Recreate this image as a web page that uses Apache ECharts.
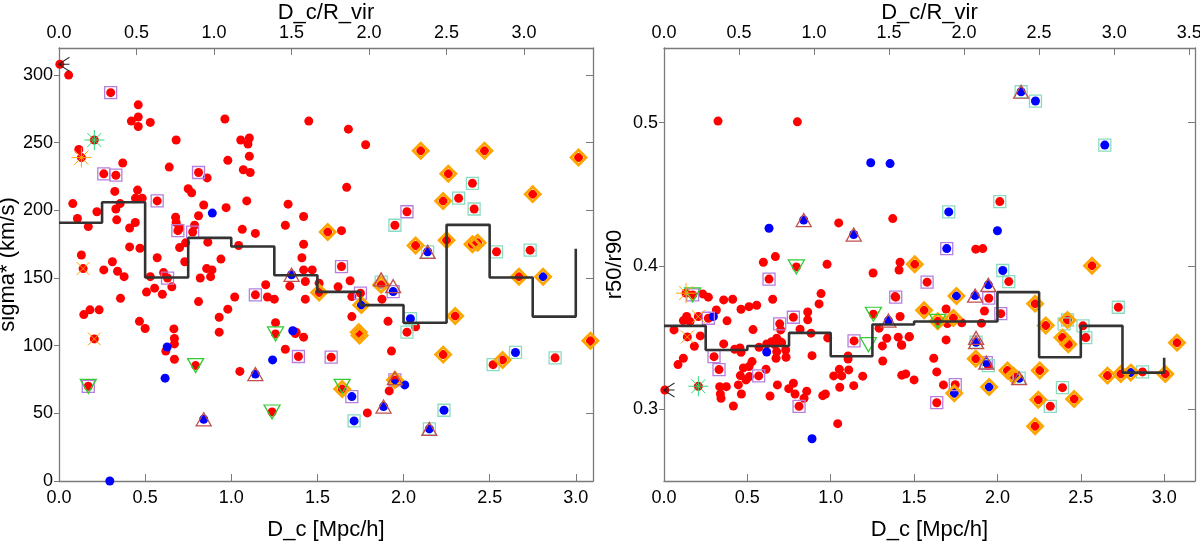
<!DOCTYPE html>
<html><head><meta charset="utf-8">
<script src="https://cdn.jsdelivr.net/npm/echarts@6/dist/echarts.min.js"></script>
<style>html,body{margin:0;padding:0;background:#fff}#c{width:1200px;height:544px}</style>
</head><body><div id="c"></div>
<script>
// ---------- tick labels ----------
const leftYTicks = [0, 50, 100, 150, 200, 250, 300];
const rightYTicks = [0.3, 0.4, 0.5];
const leftBottomTicks = [0, 0.5, 1.0, 1.5, 2.0, 2.5, 3.0];
const rightBottomTicks = [0, 0.5, 1.0, 1.5, 2.0, 2.5, 3.0];
const leftTopTicks = [0, 0.5, 1.0, 1.5, 2.0, 2.5, 3.0];
const rightTopTicks = [0, 0.5, 1.0, 1.5, 2.0, 2.5, 3.0, 3.5];

// ---------- left panel: sigma* vs D_c ----------
const leftRed = [[0.005,308],[0.056,300],[0.30,287],[0.46,278],[0.46,269],[0.42,266],[0.46,262],[0.53,265],[0.205,252],[0.68,252],[0.115,245],[0.13,239],[0.37,235],[0.64,232],[0.26,227],[0.33,226],[0.324,214],[0.456,215],[0.444,209],[0.483,209],[0.08,205],[0.22,199],[0.33,201],[0.355,205],[0.57,207],[0.107,194],[0.335,193],[0.17,188],[0.41,187],[0.443,191],[0.41,173],[0.47,172],[0.13,167],[0.14,157],[0.31,162],[0.26,156],[0.34,155],[0.378,151],[0.57,165],[0.53,151],[0.63,150],[0.607,154],[0.677,195],[0.69,185],[0.70,187],[0.68,191],[0.776,184],[0.787,189],[0.70,172.5],[0.73,162],[0.735,176],[0.75,216],[0.77,213],[0.81,228],[0.86,224],[0.84,204],[0.81,196],[0.864,176.5],[0.857,157],[0.888,156],[0.88,151],[0.82,150],[0.94,164],[0.97,202],[0.963,267.5],[0.98,237],[1.055,252],[1.105,253.5],[1.097,249],[1.105,240],[1.07,230],[1.11,228],[1.09,207],[1.064,186],[1.14,183],[1.043,174],[1.33,204.6],[1.314,189],[1.2,145],
[1.45,266],[1.68,260],[1.78,248.5],[1.67,217],[2.10,244],[2.47,244],[3.016,239],[2.26,227],[2.40,220],[2.32,209],[2.23,207],[2.41,201],[2.75,212],[2.02,199],[1.95,189],[1.42,195.5],[1.56,184],[1.64,185],[1.42,175],[1.41,165],[1.42,156],[1.47,156],[1.64,158.5],[1.69,148],[1.62,143.5],[1.34,144],[2.07,174],[2.25,178],[2.40,175],[2.43,176],[2.54,169.4],[2.735,170.6],[2.67,151],[1.87,145],
[0.144,123],[0.18,126.5],[0.233,126.5],[0.357,135],[0.508,139.6],[0.555,142.5],[0.60,138],[0.655,143.5],[0.467,118],[0.50,112.7],[0.667,112.4],[0.67,105.3],[0.67,101.3],[0.67,90],[0.62,96],[0.81,132.6],[0.93,121],[0.98,127],[0.93,110],[1.02,136],[1.14,137.6],[1.21,136],[1.25,134.4],[1.257,117],[1.257,108.7],[1.05,81],[1.314,97.4],[1.372,109],[1.39,92],[0.793,85.3],[0.17,70],[1.237,51],[0.205,105],
[1.43,147.4],[1.43,134.4],[1.51,139.3],[1.51,146.2],[1.70,136.3],[1.75,138.8],[1.70,121.5],[1.875,134.4],[1.91,118],[2.02,110],[2.07,114],[2.30,122],[1.74,110],[1.745,107.5],[1.377,110],[1.42,106.3],[1.58,91.5],[1.93,96],[2.23,93.4],[2.52,86],[2.575,89.5],[2.88,91],[3.085,103.6],[1.644,68],[1.917,66.6],[1.95,74.7],[1.79,50.3]];
const leftBlue = [[0.89,198],[1.35,152.4],[2.14,169.4],[2.81,151],[1.94,140],[0.628,99],[0.616,76],[1.24,89.5],[1.357,111],[1.14,79],[0.84,45.6],[0.295,0],[1.755,130],[2.04,120],[2.65,95],[1.70,62.4],[2.007,71],[1.884,55],[1.713,44.4],[2.235,52.3],[2.15,38.5],[1.95,72]];
const leftPurpleSq = [[0.30,287],[0.26,227],[0.33,226],[0.57,207],[0.69,185],[0.776,184],[0.81,228],[0.63,150],[1.14,137.6],[1.39,92],[0.17,70],[2.02,199],[1.64,158.5],[1.75,138.8],[1.94,140],[1.58,91.5],[1.70,62.4],[1.95,74.7]];
const leftTealSq = [[2.40,220],[2.32,209],[2.41,201],[1.95,189],[2.14,169.4],[2.54,169.4],[2.735,170.6],[1.87,147],[2.04,120],[2.02,110],[2.52,86],[2.65,95],[2.88,91],[1.713,44.4],[2.235,52.3],[2.15,38.5]];
const leftDiamond = [[2.10,244],[2.47,244],[3.016,239],[2.26,227],[2.23,207],[2.75,212],[1.56,184],[2.07,174],[2.25,178],[2.40,175],[2.43,176],[2.67,151],[2.81,151],[1.87,145],[1.51,139.3],[1.755,130],[2.30,122],[1.74,110],[1.745,107.5],[2.23,93.4],[2.575,89.5],[3.085,103.6],[1.644,68],[1.95,74.7]];
const leftDownTri = [[0.17,70],[0.793,85.3],[1.257,108.7],[1.237,51],[1.644,70]];
const leftUpTri = [[1.35,152.4],[2.14,169.4],[0.84,45.6],[1.14,79],[1.95,76],[1.884,55],[2.15,38.5],[1.87,149],[1.94,144]];
const leftStar = [[0.13,239]];
const leftCross = [[0.14,157],[0.205,105]];
const leftGreenStar = [[0.205,252]];
const leftBlackTri = [[0,308]];
const leftStepEdges = [0,0.25,0.5,0.75,1.0,1.25,1.5,1.75,2.0,2.25,2.5,2.75,3.0];
const leftStepValues = [190.8,206,150.4,179.7,173.3,152.1,139.8,130,117,189.3,150.4,121.5];
const leftStepTail = 171.6;

// ---------- right panel: r50/r90 vs D_c ----------
const rightRed = [[0.324,0.501],[0.80,0.5005],[1.048,0.430],[1.372,0.433],[0.596,0.4026],[0.668,0.4065],[0.794,0.3993],[0.978,0.4012],[1.254,0.3951],[1.416,0.4026],[1.41,0.3972],[0.63,0.3908],
[2.014,0.4449],[1.87,0.4117],[1.912,0.4121],[1.504,0.4012],[2.567,0.4002],[2.068,0.3891],[1.578,0.3887],[1.386,0.3786],[1.948,0.3775],
[1.922,0.3686],[2.02,0.3667],[1.692,0.370],[1.56,0.3691],[1.642,0.3614],[1.736,0.3637],[1.70,0.3598],[1.786,0.3603],[1.904,0.3601],[1.47,0.3505],[1.426,0.3447],[1.692,0.3484],[1.87,0.3353],[1.945,0.3305],[1.618,0.3356],[1.636,0.3261],[1.50,0.3205],[1.45,0.3247],[1.426,0.3238],[1.676,0.317],[1.747,0.3172],[1.636,0.3046],[2.06,0.327],[2.096,0.3235],[2.254,0.327],[2.226,0.3737],[2.29,0.3584],[2.42,0.3623],[2.39,0.35],[2.425,0.3454],[2.513,0.3582],[2.53,0.35],[2.725,0.3712],[3.077,0.3465],[2.39,0.3151],[2.46,0.3072],[2.245,0.3067],[2.317,0.3021],[2.226,0.2882],[2.66,0.3235],[2.74,0.3247],[2.87,0.3261],[3.007,0.3247],
[1.39,0.3782],[0.172,0.3798],[0.132,0.381],[0.232,0.3805],[0.266,0.3782],[0.358,0.3763],[0.412,0.3768],[0.462,0.3698],[0.51,0.3716],[0.556,0.3726],[0.652,0.3768],[0.942,0.3807],[0.93,0.3735],[0.862,0.3679],[0.862,0.3624],[0.776,0.3642],[0.694,0.3596],[0.70,0.3554],[0.206,0.3647],[0.266,0.3635],[0.136,0.3647],[0.116,0.3619],[0.156,0.3612],[0.314,0.3693],[0.378,0.3617],[0.14,0.3505],[0.06,0.3554],[0.218,0.3512],[0.182,0.344],[0.116,0.3356],[0.084,0.3312],[0.30,0.3367],[0.33,0.3277],[0.206,0.3161],[0.358,0.3456],[0.424,0.3419],[0.456,0.3428],[0.462,0.3398],[0.534,0.3556],[0.57,0.3433],[0.616,0.3456],[0.646,0.3472],[0.676,0.3496],[0.696,0.3472],[0.666,0.3449],[0.676,0.3402],[0.73,0.3414],[0.706,0.3465],[0.672,0.3356],[0.732,0.3363],[0.816,0.3559],[0.882,0.3531],[0.888,0.3374],[0.982,0.3498],[1.14,0.3477],[1.256,0.3663],[1.29,0.3566],[1.336,0.3496],[1.31,0.3442],[1.416,0.3647],[1.405,0.3503],[1.472,0.3507],[1.424,0.3451],[1.104,0.3372],[1.104,0.3351],[1.312,0.3337],[0.458,0.3235],[0.512,0.3228],[0.492,0.3205],[0.476,0.3289],[0.51,0.3298],[0.528,0.3333],[0.612,0.3279],[0.568,0.3233],[0.446,0.317],[0.334,0.3158],[0.374,0.3158],[0.338,0.3107],[0.342,0.3077],[0.464,0.3107],[0.68,0.317],[0.748,0.3144],[0.776,0.3182],[0.786,0.3107],[0.856,0.3126],[0.636,0.3093],[0.84,0.3077],[0.81,0.3021],[0.416,0.3023],[0.952,0.3095],[0.968,0.3107],[1.018,0.3233],[1.066,0.3233],[1.052,0.3279],[1.108,0.3275],[1.054,0.3154],[1.138,0.3165],[1.192,0.3231],[1.042,0.29],[0.005,0.3135]];
const rightBlue = [[1.24,0.472],[1.356,0.4714],[0.838,0.432],[0.63,0.4263],[1.138,0.4219],[2.142,0.5215],[2.228,0.515],[2.644,0.4843],[1.708,0.4377],[2.0,0.4245],[1.696,0.4121],[2.032,0.3968],[1.945,0.3868],[1.754,0.3791],[1.866,0.3793],[1.872,0.3468],[1.933,0.3326],[1.741,0.3112],[1.95,0.3156],[2.13,0.3217],[2.80,0.3256],[0.296,0.3647],[0.616,0.34],[1.346,0.3619],[0.888,0.2795]];
const rightPurpleSq = [[0.63,0.3908],[0.172,0.3798],[1.696,0.4121],[1.578,0.3887],[1.948,0.3775],[2.02,0.3667],[1.933,0.3326],[1.747,0.3172],[1.636,0.3046],[1.39,0.3782],[0.776,0.3642],[0.694,0.3596],[0.266,0.3635],[0.30,0.3367],[0.33,0.3277],[0.568,0.3233],[0.81,0.3021],[1.14,0.3477]];
const rightTealSq = [[2.142,0.5215],[2.228,0.515],[2.644,0.4843],[2.014,0.4449],[1.708,0.4377],[2.032,0.3968],[2.068,0.3891],[1.872,0.3468],[1.945,0.3305],[2.13,0.3217],[2.42,0.3623],[2.40,0.3596],[2.513,0.3582],[2.53,0.35],[2.725,0.3712],[2.39,0.3151],[2.317,0.3021],[2.87,0.3261]];
const rightDiamond = [[1.504,0.4012],[2.567,0.4002],[1.754,0.3791],[1.56,0.3691],[1.642,0.3614],[1.736,0.3637],[1.87,0.3353],[1.741,0.3112],[1.95,0.3156],[2.06,0.327],[2.096,0.3235],[2.254,0.327],[2.226,0.3737],[2.29,0.3584],[2.42,0.3623],[2.39,0.35],[2.425,0.3454],[3.077,0.3465],[2.46,0.3072],[2.245,0.3067],[2.226,0.2882],[2.66,0.3235],[2.74,0.3247],[2.80,0.3256],[3.007,0.3247]];
const rightDownTri = [[0.172,0.3798],[0.794,0.3993],[1.226,0.3451],[1.256,0.3663],[1.642,0.3614]];
const rightUpTri = [[0.838,0.432],[1.138,0.4219],[2.142,0.5215],[1.945,0.3868],[1.866,0.3793],[1.872,0.3468],[1.872,0.3498],[1.933,0.3326],[2.13,0.3217],[1.346,0.3619]];
const rightStar = [[0.132,0.381]];
const rightCross = [[0.206,0.3647],[0.14,0.3505]];
const rightGreenStar = [[0.206,0.3161]];
const rightBlackTri = [[0,0.3135]];
const rightStepEdges = [0,0.25,0.5,0.75,1.0,1.25,1.5,1.75,2.0,2.25,2.5,2.75,3.0];
const rightStepValues = [0.3582,0.3414,0.3442,0.3533,0.337,0.3592,0.3612,0.3612,0.3817,0.3363,0.3582,0.3256];
const rightStepTail = 0.336;

// ---------- build ----------
const FF = '"Liberation Sans", Arial, Helvetica, sans-serif';
const AX = '#7a7a7a';
function stepPoints(edges, vals, tail) {
  const pts = [];
  for (let i = 0; i < vals.length; i++) { pts.push([edges[i], vals[i]]); pts.push([edges[i + 1], vals[i]]); }
  pts.push([edges[edges.length - 1], tail]);
  return pts;
}
function xAx(gi, pos, max, ticks, name, gap, margin) {
  return {
    type: 'value', gridIndex: gi, position: pos, min: 0, max: max,
    name: name, nameLocation: 'middle', nameGap: gap, nameMoveOverlap: false,
    nameTextStyle: { fontSize: 22, color: '#000', fontFamily: FF },
    axisLine: { show: true, onZero: false, lineStyle: { color: AX, width: 1.3 } },
    axisTick: { show: true, inside: true, length: 7, customValues: ticks, lineStyle: { color: AX } },
    axisLabel: { show: true, customValues: ticks, margin: margin, fontSize: 18, color: '#000', fontFamily: FF,
      formatter: v => Number(v).toFixed(1) },
    splitLine: { show: false }
  };
}
function yAx(gi, pos, min, max, ticks, name, gap, fmt, showLabel) {
  return {
    type: 'value', gridIndex: gi, position: pos, min: min, max: max,
    name: name, nameLocation: 'middle', nameGap: gap, nameRotate: 90,
    nameTextStyle: { fontSize: 22, color: '#000', fontFamily: FF },
    axisLine: { show: true, onZero: false, lineStyle: { color: AX, width: 1.3 } },
    axisTick: { show: true, inside: !showLabel, length: showLabel ? 5 : 7, customValues: ticks, lineStyle: { color: AX } },
    axisLabel: { show: showLabel, customValues: ticks, margin: 6, fontSize: 18, color: '#000', fontFamily: FF, formatter: fmt },
    splitLine: { show: false }
  };
}
const STAR = 'path://M10,0L10,20M0,10L20,10M3,3L17,17M17,3L3,17';
const CROSS = 'path://M0,0L10,10M10,0L0,10';
const TRI3 = 'path://M0,10L12,0M0,10L12,10M0,10L12,20';
function layer(xi, yi, data, sym, size, style, extra) {
  return Object.assign({
    type: 'scatter', xAxisIndex: xi, yAxisIndex: yi, data: data, symbol: sym, symbolSize: size,
    itemStyle: Object.assign({ opacity: 1 }, style), silent: true, animation: false
  }, extra || {});
}
function panelSeries(xi, yi, d) {
  const open = 'rgba(0,0,0,0)';
  return [
    layer(xi, yi, d.red, 'circle', 9, { color: '#ff0000' }, { z: 2 }),
    layer(xi, yi, d.blue, 'circle', 9, { color: '#0000ff' }, { z: 3 }),
    layer(xi, yi, d.purple, 'rect', 12, { color: open, borderColor: '#b67fdf', borderWidth: 1.3 }, { z: 4 }),
    layer(xi, yi, d.teal, 'rect', 12, { color: open, borderColor: '#8cdcc2', borderWidth: 1.3 }, { z: 4 }),
    layer(xi, yi, d.diamond, 'diamond', 15, { color: open, borderColor: '#ffa500', borderWidth: 2.8 }, { z: 5 }),
    layer(xi, yi, d.down, 'triangle', [16, 14], { color: open, borderColor: '#33cc33', borderWidth: 1.3 }, { z: 6, symbolRotate: 180 }),
    layer(xi, yi, d.up, 'triangle', [15, 13], { color: open, borderColor: '#c0504d', borderWidth: 1.3 }, { z: 6 }),
    layer(xi, yi, d.star, STAR, 20, { color: open, borderColor: '#ffa500', borderWidth: 1 }, { z: 7 }),
    layer(xi, yi, d.cross, CROSS, 13, { color: open, borderColor: '#ffa500', borderWidth: 1 }, { z: 7 }),
    layer(xi, yi, d.gstar, STAR, 20, { color: open, borderColor: '#22dd77', borderWidth: 1 }, { z: 7 }),
    layer(xi, yi, d.black, TRI3, [11, 14], { color: open, borderColor: '#222', borderWidth: 1 }, { z: 7, symbolOffset: [5, 0] }),
    { type: 'line', xAxisIndex: xi, yAxisIndex: yi, data: d.step, symbol: 'none', silent: true, animation: false, z: 8,
      lineStyle: { color: '#333', width: 2.6 } }
  ];
}
const chart = echarts.init(document.getElementById('c'), null, { renderer: 'canvas' });
chart.setOption({
  animation: false,
  backgroundColor: '#fff',
  grid: [
    { left: 59, top: 48, width: 534, height: 433, containLabel: false, outerBoundsMode: 'none' },
    { left: 664, top: 48, width: 531, height: 433, containLabel: false, outerBoundsMode: 'none' }
  ],
  xAxis: [
    xAx(0, 'bottom', 3.1, leftBottomTicks, 'D_c [Mpc/h]', 38, 8),
    xAx(0, 'top', 3.1 / 0.9, leftTopTicks, 'D_c/R_vir', 24, 6),
    xAx(1, 'bottom', 3.185, rightBottomTicks, 'D_c [Mpc/h]', 38, 8),
    xAx(1, 'top', 3.185 / 0.9, rightTopTicks, 'D_c/R_vir', 24, 6)
  ],
  yAxis: [
    yAx(0, 'left', 0, 320, leftYTicks, 'sigma* (km/s)', 30, v => String(v), true),
    yAx(0, 'right', 0, 320, leftYTicks, '', 0, v => String(v), false),
    yAx(1, 'left', 0.25, 0.552, rightYTicks, 'r50/r90', 38, v => Number(v).toFixed(1), true),
    yAx(1, 'right', 0.25, 0.552, rightYTicks, '', 0, v => Number(v).toFixed(1), false)
  ],
  series: [].concat(
    panelSeries(0, 0, { red: leftRed, blue: leftBlue, purple: leftPurpleSq, teal: leftTealSq, diamond: leftDiamond,
      down: leftDownTri, up: leftUpTri, star: leftStar, cross: leftCross, gstar: leftGreenStar, black: leftBlackTri,
      step: stepPoints(leftStepEdges, leftStepValues, leftStepTail) }),
    panelSeries(2, 2, { red: rightRed, blue: rightBlue, purple: rightPurpleSq, teal: rightTealSq, diamond: rightDiamond,
      down: rightDownTri, up: rightUpTri, star: rightStar, cross: rightCross, gstar: rightGreenStar, black: rightBlackTri,
      step: stepPoints(rightStepEdges, rightStepValues, rightStepTail) })
  )
});
</script></body></html>
